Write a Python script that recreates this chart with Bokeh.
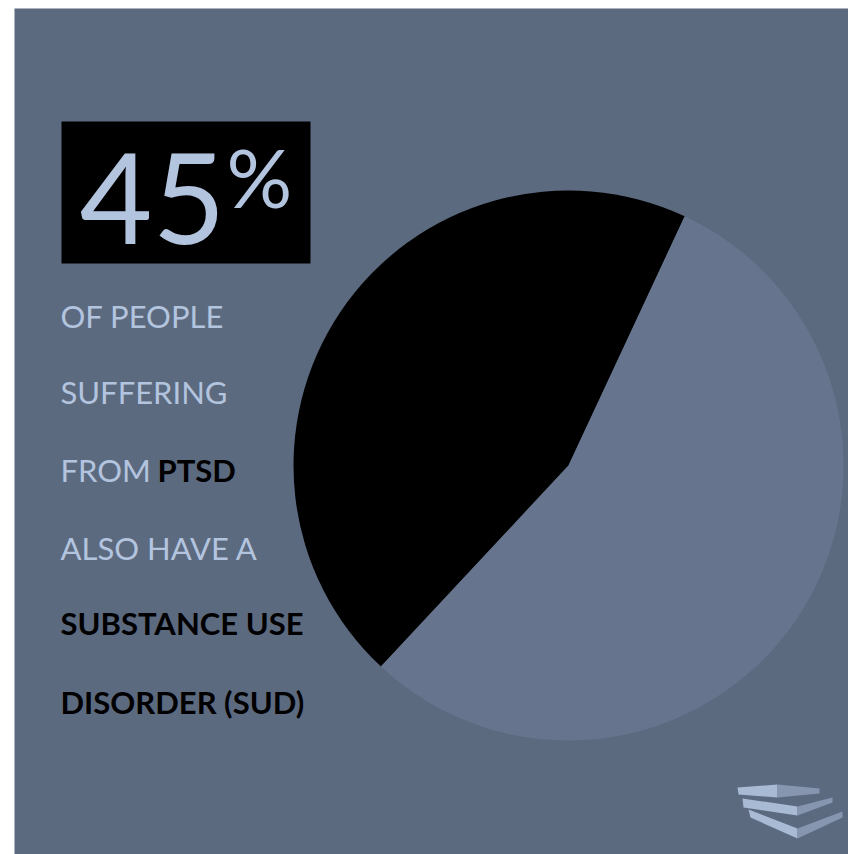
import math
from bokeh.plotting import figure
from bokeh.models import Range1d, ColumnDataSource
from bokeh.core.properties import value
from bokeh.embed import file_html
from bokeh.resources import INLINE

# ---- data ----
categories = ["PTSD with SUD", "PTSD without SUD"]
shares = [45, 55]
slice_colors = ["#000000", "#66758d"]
start_deg = 65

headline = "45"
headline_unit = "%"
light_lines = ["OF PEOPLE", "SUFFERING", "FROM ", "ALSO HAVE A"]
bold_words = ["PTSD", "SUBSTANCE USE", "DISORDER (SUD)"]

# ---- layout helpers (screen px -> data) ----
W, H = 848, 854
def X(sx):
    return sx
def Y(sy):
    return H - sy
def YB(sy, size):
    # baseline compensation for svg text
    return H - sy + 0.36 * size

BG = "#5c6a80"
LIGHT = "#b3c4df"
FONT = value("Lato")

p = figure(width=W, height=H, output_backend="svg", toolbar_location=None,
           x_range=Range1d(0, W), y_range=Range1d(0, H), min_border=0)
p.axis.visible = False
p.grid.visible = False
p.outline_line_color = None
p.background_fill_color = "white"
p.border_fill_color = "white"

# panel background
p.quad(left=X(14), right=X(848), bottom=Y(854), top=Y(8), fill_color=BG, line_color=None)

# pie
total = sum(shares)
acc = math.radians(start_deg)
starts, ends = [], []
for v in shares:
    a = v / total * 2 * math.pi
    starts.append(acc)
    ends.append(acc + a)
    acc += a
src = ColumnDataSource(dict(cat=categories, start=starts, end=ends, color=slice_colors))
p.wedge(x=X(568), y=Y(465), radius=275, start_angle="start", end_angle="end",
        fill_color="color", line_color=None, source=src)

# headline box
p.quad(left=X(61), right=X(310), bottom=Y(263), top=Y(121), fill_color="black", line_color=None)
p.text(x=[X(79)], y=[YB(243, 126)], text=[headline], text_font=FONT, text_font_size="126px",
       text_color=LIGHT, text_baseline="alphabetic", text_align="left")
p.text(x=[X(226)], y=[YB(205, 82)], text=[headline_unit], text_font=FONT, text_font_size="82px",
       text_color=LIGHT, text_baseline="alphabetic", text_align="left")

# body text
fs = 31
baselines = [327, 403, 481, 559, 634, 713]
p.text(x=[X(60)] * 4, y=[YB(b, fs) for b in baselines[:4]], text=light_lines, text_font=FONT,
       text_font_size=f"{fs}px", text_color=LIGHT, text_baseline="alphabetic", text_align="left")
p.text(x=[X(157), X(60), X(60)], y=[YB(baselines[2], fs), YB(baselines[4], fs), YB(baselines[5], fs)],
       text=bold_words, text_font=FONT, text_font_style="bold", text_font_size=f"{fs}px",
       text_color="black", text_baseline="alphabetic", text_align="left")

# logo (stacked slabs)
slabs = [
    ([737, 777, 777, 738], [787, 784, 797, 794], [777, 819, 819, 777], [784, 788, 793, 797]),
    ([742, 797, 797, 743], [798, 806, 815, 807], [797, 832, 832, 797], [806, 797, 802, 815]),
    ([748, 797, 797, 750], [809, 828, 838, 817], [797, 842, 842, 797], [828, 811, 817, 838]),
]
for lx, ly, rx, ry in slabs:
    p.patch([X(v) for v in lx], [Y(v) for v in ly], fill_color="#a9bad5", line_color=None)
    p.patch([X(v) for v in rx], [Y(v) for v in ry], fill_color="#8696b0", line_color=None)

open("out.html", "w").write(file_html(p, INLINE))
